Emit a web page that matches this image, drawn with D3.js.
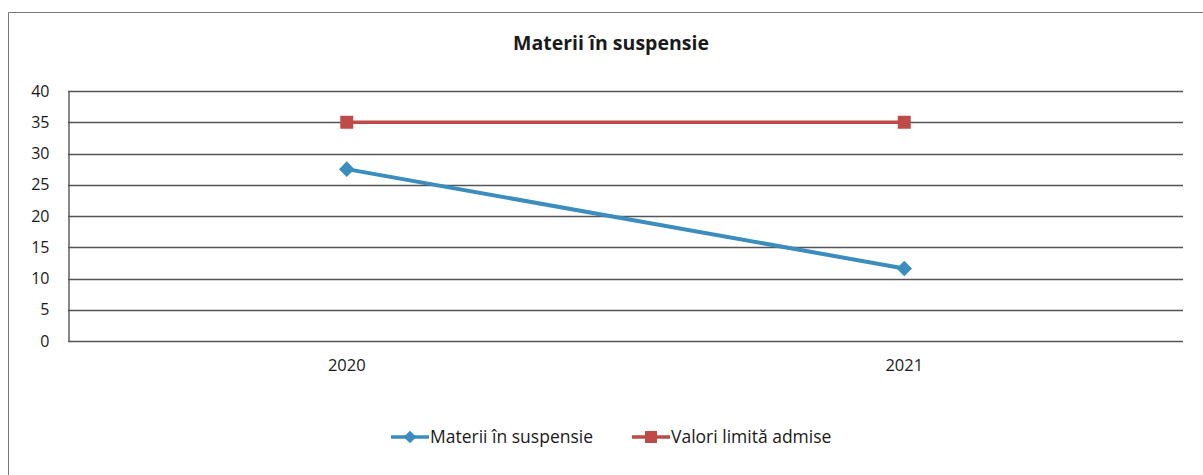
<!DOCTYPE html>
<html>
<head>
	<meta charset="utf-8">
	<title>Materii în suspensie</title>
	<script type="text/javascript" src="https://d3js.org/d3.v7.min.js"></script>
	<style>
		body{ margin: 0; background: #fff; }
		svg text{ font-family: "Open Sans", sans-serif; fill: #1a1a1a; }
	</style>
</head>
<body>
<svg class="chart"></svg>

<script type="text/javascript">
	// values
	var years = ["2020", "2021"];
	var materii = [27.5, 11.6];
	var limite = [35, 35];
	var yTicks = [0, 5, 10, 15, 20, 25, 30, 35, 40];
	var seriesNames = ["Materii în suspensie", "Valori limită admise"];

	var width = 1203, height = 475;
	var plotLeft = 68, plotRight = 1183, plotTop = 91, plotBottom = 341;

	var svg = d3.select(".chart")
		.attr("width", width)
		.attr("height", height);

	// outer frame (only left and top edges show)
	svg.append("path")
		.attr("d", "M8.5,475 L8.5,12.5 L1203,12.5")
		.attr("fill", "none")
		.attr("stroke", "#777")
		.attr("stroke-width", 1);

	var x = d3.scaleBand()
		.domain(years)
		.range([plotLeft, plotRight]);

	var y = d3.scaleLinear()
		.domain([0, 40])
		.range([plotBottom, plotTop]);

	// gridlines
	svg.append("g")
		.selectAll("line")
		.data(yTicks)
	  .enter().append("line")
		.attr("x1", plotLeft)
		.attr("x2", plotRight)
		.attr("y1", function(d){ return Math.round(y(d)) + 0.5; })
		.attr("y2", function(d){ return Math.round(y(d)) + 0.5; })
		.attr("stroke", "#555")
		.attr("stroke-width", 1.4);

	// y axis
	var yAxis = svg.append("g")
		.attr("transform", "translate(" + (plotLeft + 0.5) + ",0)")
		.call(d3.axisLeft(y).tickValues(yTicks).tickSize(0).tickPadding(19));
	yAxis.select(".domain").attr("stroke", "#555").attr("stroke-width", 1.4);
	yAxis.selectAll("text").style("font-size", "16px").attr("fill", "#1a1a1a");

	// x axis labels
	var xAxis = svg.append("g")
		.attr("transform", "translate(0," + plotBottom + ")")
		.call(d3.axisBottom(x).tickSize(0).tickPadding(18));
	xAxis.select(".domain").remove();
	xAxis.selectAll("text").style("font-size", "16.5px").attr("fill", "#1a1a1a");

	// title
	svg.append("text")
		.attr("x", 611)
		.attr("y", 50)
		.attr("text-anchor", "middle")
		.style("font-size", "19.5px")
		.style("font-weight", "bold")
		.text("Materii în suspensie");

	var line = d3.line()
		.x(function(d, i){ return x(years[i]) + x.bandwidth() / 2; })
		.y(function(d){ return y(d); });

	var blue = "#3a8dbd", red = "#be4b48";

	// red series (limit)
	svg.append("path")
		.datum(limite)
		.attr("d", line)
		.attr("fill", "none")
		.attr("stroke", red)
		.attr("stroke-width", 3.5);
	svg.selectAll(".sq")
		.data(limite)
	  .enter().append("rect")
		.attr("x", function(d, i){ return x(years[i]) + x.bandwidth() / 2 - 6.5; })
		.attr("y", function(d){ return y(d) - 6.5; })
		.attr("width", 13)
		.attr("height", 13)
		.attr("fill", red);

	// blue series
	svg.append("path")
		.datum(materii)
		.attr("d", line)
		.attr("fill", "none")
		.attr("stroke", blue)
		.attr("stroke-width", 4);
	svg.selectAll(".dm")
		.data(materii)
	  .enter().append("rect")
		.attr("x", -5.5).attr("y", -5.5)
		.attr("width", 11).attr("height", 11)
		.attr("transform", function(d, i){
			return "translate(" + (x(years[i]) + x.bandwidth() / 2) + "," + y(d) + ") rotate(45)";
		})
		.attr("fill", blue);

	// legend
	var legend = svg.append("g").attr("transform", "translate(0,437)");
	var items = [
		{ name: seriesNames[0], color: blue, x0: 391, shape: "diamond" },
		{ name: seriesNames[1], color: red, x0: 632, shape: "square" }
	];
	var li = legend.selectAll("g")
		.data(items)
	  .enter().append("g")
		.attr("transform", function(d){ return "translate(" + d.x0 + ",0)"; });
	li.append("line")
		.attr("x1", 0).attr("x2", 38)
		.attr("y1", 0).attr("y2", 0)
		.attr("stroke", function(d){ return d.color; })
		.attr("stroke-width", 3.5);
	li.append("rect")
		.attr("x", function(d){ return d.shape == "diamond" ? -4.5 : -6; })
		.attr("y", function(d){ return d.shape == "diamond" ? -4.5 : -6; })
		.attr("width", function(d){ return d.shape == "diamond" ? 9 : 12; })
		.attr("height", function(d){ return d.shape == "diamond" ? 9 : 12; })
		.attr("transform", function(d){ return "translate(19,0)" + (d.shape == "diamond" ? " rotate(45)" : ""); })
		.attr("fill", function(d){ return d.color; });
	li.append("text")
		.attr("x", 39)
		.attr("y", 0)
		.attr("dy", "0.35em")
		.style("font-size", "17.5px")
		.text(function(d){ return d.name; });
</script>
</body>
</html>
